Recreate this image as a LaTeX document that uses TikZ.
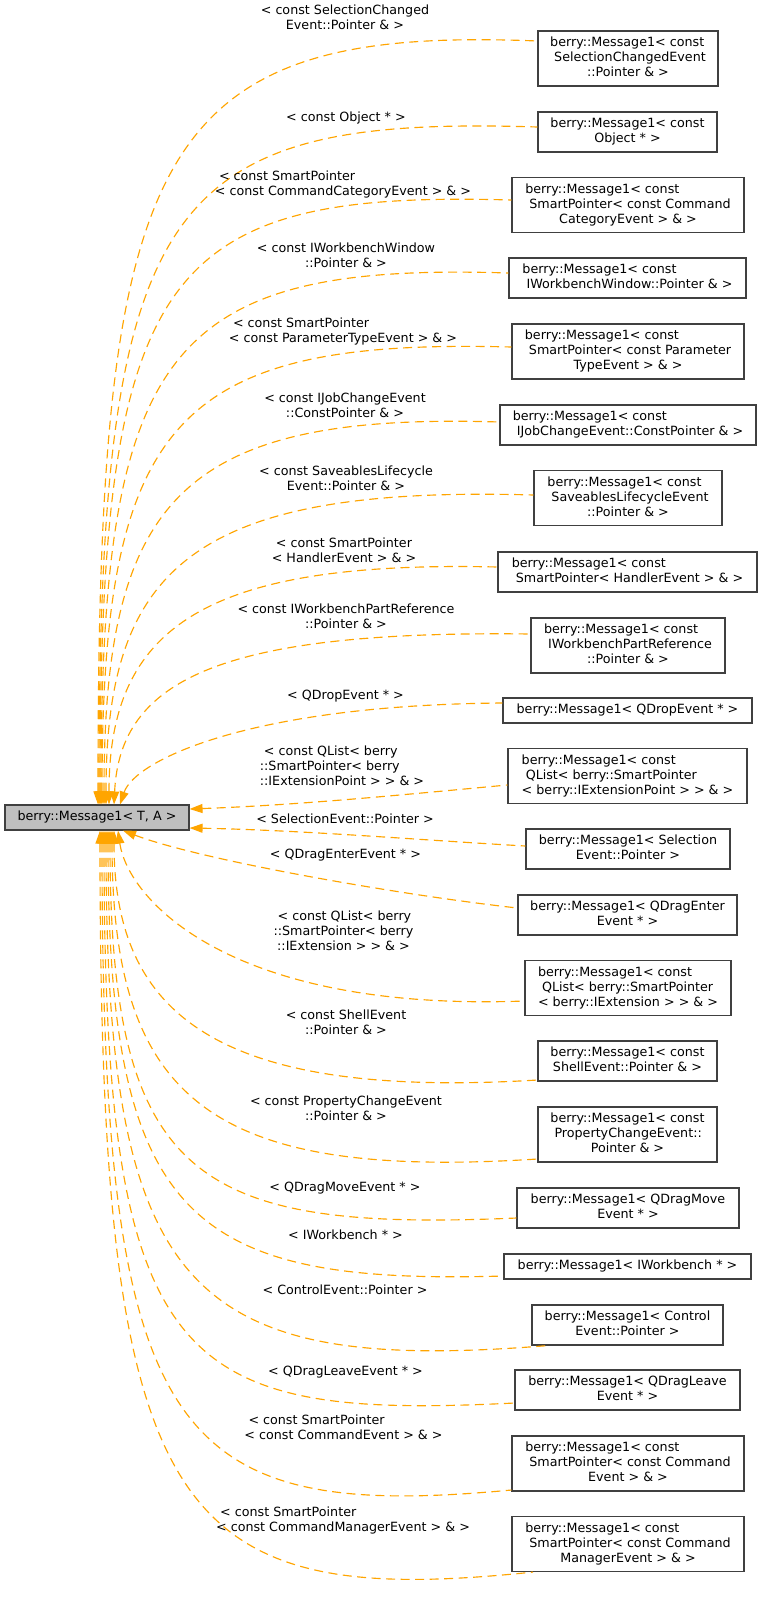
\documentclass[tikz,border=0pt]{standalone}
\usepackage{fontspec}
\setmainfont{DejaVu Sans}
\usetikzlibrary{arrows.meta}
\definecolor{edgeorange}{HTML}{FFA500}
\definecolor{mainfill}{HTML}{BFBFBF}
\definecolor{boxline}{HTML}{404040}
\newcommand{\dxtab}[1]{\begin{tabular}{@{}l@{}}#1\end{tabular}}
\newcommand{\dxlast}[1]{\multicolumn{1}{@{}c@{}}{#1}}
\begin{document}
\begin{tikzpicture}[x=1pt,y=-1pt,
  font=\fontsize{12.7}{15}\selectfont,
  classbox/.style={draw=boxline,line width=1.1pt,fill=white,inner sep=0pt,anchor=center},
  mainbox/.style={classbox,fill=mainfill},
  elabel/.style={inner sep=0pt,anchor=center},
  edge/.style={draw=edgeorange,line width=1.15pt,dash pattern=on 9pt off 5.5pt,
    arrows={Triangle[length=13pt,width=9pt,fill=edgeorange]-}}]
\useasboundingbox[fill=white] (0,0) rectangle (763,1598);

% main node
\node[mainbox,minimum width=184pt,minimum height=25pt] (main) at (97,817.5) {\dxtab{berry::Message1< T, A >}};

% derived boxes
\node[classbox,minimum width=180pt,minimum height=55pt] (b1) at (628,58.5) {\dxtab{berry::Message1< const\\\ SelectionChangedEvent\\\dxlast{::Pointer \& >}}};
\node[classbox,minimum width=179pt,minimum height=40pt] (b2) at (627.5,132) {\dxtab{berry::Message1< const\\\dxlast{Object * >}}};
\node[classbox,minimum width=232pt,minimum height=55pt] (b3) at (628,205) {\dxtab{berry::Message1< const\\\ SmartPointer< const Command\\\dxlast{CategoryEvent > \& >}}};
\node[classbox,minimum width=237pt,minimum height=40pt] (b4) at (627.5,278) {\dxtab{berry::Message1< const\\\dxlast{\ IWorkbenchWindow::Pointer \& >}}};
\node[classbox,minimum width=232pt,minimum height=55pt] (b5) at (628,351.5) {\dxtab{berry::Message1< const\\\ SmartPointer< const Parameter\\\dxlast{TypeEvent > \& >}}};
\node[classbox,minimum width=256pt,minimum height=40pt] (b6) at (628,425) {\dxtab{berry::Message1< const\\\dxlast{\ IJobChangeEvent::ConstPointer \& >}}};
\node[classbox,minimum width=188pt,minimum height=55pt] (b7) at (628,498) {\dxtab{berry::Message1< const\\\ SaveablesLifecycleEvent\\\dxlast{::Pointer \& >}}};
\node[classbox,minimum width=259pt,minimum height=40pt] (b8) at (627.5,572) {\dxtab{berry::Message1< const\\\dxlast{\ SmartPointer< HandlerEvent > \& >}}};
\node[classbox,minimum width=194pt,minimum height=55pt] (b9) at (628,645.5) {\dxtab{berry::Message1< const\\\ IWorkbenchPartReference\\\dxlast{::Pointer \& >}}};
\node[classbox,minimum width=249pt,minimum height=25pt] (b10) at (627.5,710.5) {\dxtab{berry::Message1< QDropEvent * >}};
\node[classbox,minimum width=239pt,minimum height=55pt] (b11) at (627.5,776) {\dxtab{berry::Message1< const\\\ QList< berry::SmartPointer\\\dxlast{< berry::IExtensionPoint > > \& >}}};
\node[classbox,minimum width=204pt,minimum height=40pt] (b12) at (628,849) {\dxtab{berry::Message1< Selection\\\dxlast{Event::Pointer >}}};
\node[classbox,minimum width=219pt,minimum height=40pt] (b13) at (627.5,915) {\dxtab{berry::Message1< QDragEnter\\\dxlast{Event * >}}};
\node[classbox,minimum width=206pt,minimum height=55pt] (b14) at (628,988) {\dxtab{berry::Message1< const\\\ QList< berry::SmartPointer\\\dxlast{< berry::IExtension > > \& >}}};
\node[classbox,minimum width=179pt,minimum height=40pt] (b15) at (627.5,1061) {\dxtab{berry::Message1< const\\\dxlast{ShellEvent::Pointer \& >}}};
\node[classbox,minimum width=179pt,minimum height=55pt] (b16) at (627.5,1134.5) {\dxtab{berry::Message1< const\\\ PropertyChangeEvent::\\\dxlast{Pointer \& >}}};
\node[classbox,minimum width=222pt,minimum height=40pt] (b17) at (628,1208) {\dxtab{berry::Message1< QDragMove\\\dxlast{Event * >}}};
\node[classbox,minimum width=247pt,minimum height=25pt] (b18) at (627.5,1266.5) {\dxtab{berry::Message1< IWorkbench * >}};
\node[classbox,minimum width=191pt,minimum height=40pt] (b19) at (627.5,1325) {\dxtab{berry::Message1< Control\\\dxlast{Event::Pointer >}}};
\node[classbox,minimum width=225pt,minimum height=40pt] (b20) at (627.5,1390) {\dxtab{berry::Message1< QDragLeave\\\dxlast{Event * >}}};
\node[classbox,minimum width=232pt,minimum height=55pt] (b21) at (628,1463.5) {\dxtab{berry::Message1< const\\\ SmartPointer< const Command\\\dxlast{Event > \& >}}};
\node[classbox,minimum width=232pt,minimum height=55pt] (b22) at (628,1544) {\dxtab{berry::Message1< const\\\ SmartPointer< const Command\\\dxlast{ManagerEvent > \& >}}};

% edges (arrow at the base class)
\draw[edge] (main.north -| 98,0) .. controls (98,150) and (150,25) .. (b1.west |- 0,41);
\draw[edge] (main.north -| 99,0) .. controls (99,200) and (160,115) .. (b2.west |- 0,127);
\draw[edge] (main.north -| 100,0) .. controls (100,270) and (160,190) .. (b3.west |- 0,200);
\draw[edge] (main.north -| 101,0) .. controls (101,350) and (165,262) .. (b4.west |- 0,273);
\draw[edge] (main.north -| 102,0) .. controls (102,420) and (175,338) .. (b5.west |- 0,347);
\draw[edge] (main.north -| 104,0) .. controls (104,500) and (180,412) .. (b6.west |- 0,422);
\draw[edge] (main.north -| 106,0) .. controls (106,570) and (190,485) .. (b7.west |- 0,495);
\draw[edge] (main.north -| 109,0) .. controls (109,630) and (200,560) .. (b8.west |- 0,567);
\draw[edge] (main.north -| 114,0) .. controls (120,680) and (220,630) .. (b9.west |- 0,634);
\draw[edge] (main.north -| 120,0) .. controls (135,760) and (250,705) .. (b10.west |- 0,703);
\draw[edge] (main.east |- 0,809) .. controls (300,805) and (400,795) .. (b11.west |- 0,785);
\draw[edge] (main.east |- 0,828) .. controls (300,830) and (420,840) .. (b12.west |- 0,846);
\draw[edge] (main.south -| 123,0) .. controls (200,860) and (400,895) .. (b13.west |- 0,908);
\draw[edge] (main.south -| 118,0) .. controls (128,900) and (230,1012) .. (b14.west |- 0,1001);
\draw[edge] (main.south -| 114,0) .. controls (114,1010) and (210,1100) .. (b15.west |- 0,1080);
\draw[edge] (main.south -| 112,0) .. controls (112,1100) and (210,1180) .. (b16.west |- 0,1159);
\draw[edge] (main.south -| 110,0) .. controls (110,1180) and (195,1232) .. (b17.west |- 0,1218);
\draw[edge] (main.south -| 108,0) .. controls (108,1220) and (190,1285) .. (b18.west |- 0,1276);
\draw[edge] (main.south -| 106,0) .. controls (106,1290) and (185,1375) .. (b19.south west -| 548,0);
\draw[edge] (main.south -| 104,0) .. controls (104,1370) and (175,1420) .. (b20.west |- 0,1403);
\draw[edge] (main.south -| 102,0) .. controls (102,1440) and (170,1522) .. (b21.west |- 0,1490);
\draw[edge] (main.south -| 100,0) .. controls (100,1520) and (170,1610) .. (b22.south west -| 533,0);

% edge labels
\node[elabel] (l1) at (345,19) {\dxtab{< const SelectionChanged\\\dxlast{Event::Pointer \& >}}};
\node[elabel] (l2) at (346,118) {\dxtab{< const Object * >}};
\node[elabel] (l3) at (343,184.5) {\dxtab{\ < const SmartPointer\\\dxlast{< const CommandCategoryEvent > \& >}}};
\node[elabel] (l4) at (346,257) {\dxtab{< const IWorkbenchWindow\\\dxlast{::Pointer \& >}}};
\node[elabel] (l5) at (343,331.5) {\dxtab{\ < const SmartPointer\\\dxlast{< const ParameterTypeEvent > \& >}}};
\node[elabel] (l6) at (345,407) {\dxtab{< const IJobChangeEvent\\\dxlast{::ConstPointer \& >}}};
\node[elabel] (l7) at (346,479.5) {\dxtab{< const SaveablesLifecycle\\\dxlast{Event::Pointer \& >}}};
\node[elabel] (l8) at (344,551.5) {\dxtab{\ < const SmartPointer\\\dxlast{< HandlerEvent > \& >}}};
\node[elabel] (l9) at (346,617.5) {\dxtab{< const IWorkbenchPartReference\\\dxlast{::Pointer \& >}}};
\node[elabel] (l10) at (345.5,696) {\dxtab{< QDropEvent * >}};
\node[elabel] (l11) at (342,767) {\dxtab{\ < const QList< berry\\::SmartPointer< berry\\\dxlast{::IExtensionPoint > > \& >}}};
\node[elabel] (l12) at (345,820) {\dxtab{< SelectionEvent::Pointer >}};
\node[elabel] (l13) at (345.5,855) {\dxtab{< QDragEnterEvent * >}};
\node[elabel] (l14) at (343.5,932) {\dxtab{\ < const QList< berry\\::SmartPointer< berry\\\dxlast{::IExtension > > \& >}}};
\node[elabel] (l15) at (346,1023.5) {\dxtab{< const ShellEvent\\\dxlast{::Pointer \& >}}};
\node[elabel] (l16) at (346,1110) {\dxtab{< const PropertyChangeEvent\\\dxlast{::Pointer \& >}}};
\node[elabel] (l17) at (345,1188) {\dxtab{< QDragMoveEvent * >}};
\node[elabel] (l18) at (345.5,1236) {\dxtab{< IWorkbench * >}};
\node[elabel] (l19) at (345,1291) {\dxtab{< ControlEvent::Pointer >}};
\node[elabel] (l20) at (345.5,1372) {\dxtab{< QDragLeaveEvent * >}};
\node[elabel] (l21) at (343.5,1428.5) {\dxtab{\ < const SmartPointer\\\dxlast{< const CommandEvent > \& >}}};
\node[elabel] (l22) at (343,1521) {\dxtab{\ < const SmartPointer\\\dxlast{< const CommandManagerEvent > \& >}}};
\end{tikzpicture}
\end{document}
